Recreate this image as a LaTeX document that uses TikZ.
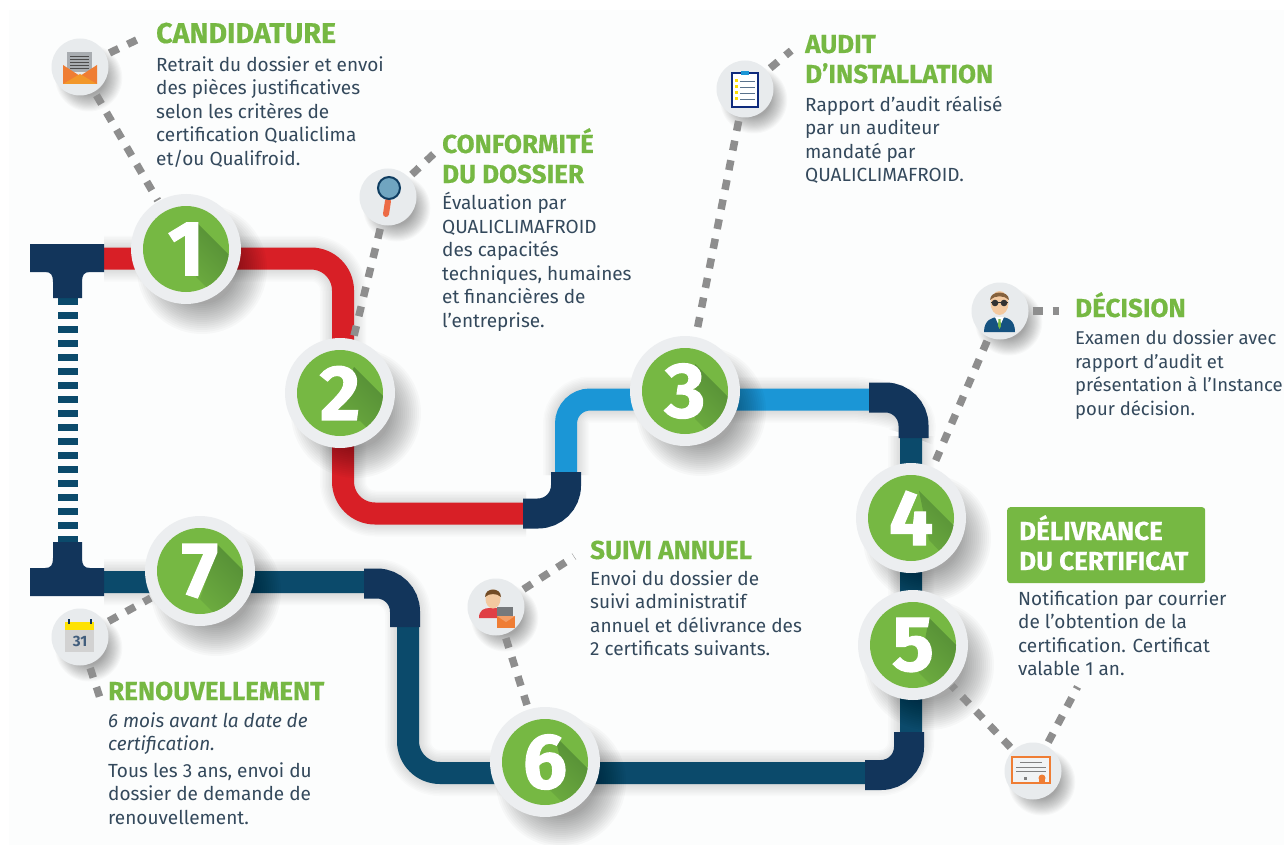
\documentclass[tikz,border=0pt]{standalone}
\usepackage{fontspec}
\setmainfont{Fira Sans}
\newfontfamily\digitfont[FakeBold=1.5]{Fira Sans}
\newfontfamily\titlefont[FakeBold=0.4]{Fira Sans}
\definecolor{bgc}{HTML}{FCFDFD}
\definecolor{navy}{HTML}{12355B}
\definecolor{teal}{HTML}{0B4A6B}
\definecolor{pred}{HTML}{D81F26}
\definecolor{pblue}{HTML}{1B96D6}
\definecolor{gr}{HTML}{76B843}
\definecolor{grd}{HTML}{4E8533}
\definecolor{ring}{HTML}{ECEEF0}
\definecolor{iconbg}{HTML}{E8EBED}
\definecolor{dashc}{HTML}{8E8E8E}
\definecolor{txt}{HTML}{34495C}
\definecolor{org}{HTML}{EF7D34}
\definecolor{skin}{HTML}{F3C9A0}
\definecolor{paper}{HTML}{A9ADB1}
\tikzset{
 x=1pt,y=-1pt,
 badge/.style={circle,fill=ring,minimum size=110pt,inner sep=0pt},
 greendisc/.style={circle,fill=gr,minimum size=86pt,inner sep=0pt},
 digit/.style={inner sep=0pt,text=white,font=\fontsize{78}{78}\digitfont\bfseries},
 icondisc/.style={circle,fill=iconbg,minimum size=57pt,inner sep=0pt},
 dots/.style={draw=dashc,line width=7.5pt,dash pattern=on 10pt off 10pt,shorten <=4pt,shorten >=1pt},
 title/.style={anchor=base west,inner sep=0pt,text=gr,font=\fontsize{26}{30}\titlefont\bfseries,align=left},
 whitetitle/.style={title,text=white},
 bigtitle/.style={title,font=\fontsize{28.6}{30}\titlefont\bfseries},
 body/.style={anchor=north west,inner sep=0pt,text=txt,align=left,font=\fontsize{19}{23.5}\selectfont,execute at begin node=\rule{0pt}{15.5pt}},
 pipe/.style={line width=22pt,rounded corners=32pt,line cap=butt},
 elbow/.style={draw=navy,line width=30pt,rounded corners=28pt,line cap=butt},
}
\newcommand{\softshadow}[4]{% x y r spread
 \foreach \k in {0,...,15}
  \fill[black,opacity=.022] ({#1+#4*.8},{#2+#4*1.0}) circle ({#3+#4*.5-\k*#4/10});
}
\newcommand{\pipeshadow}[2]{%
 \foreach \k in {0,...,10}
  \draw[black,opacity=.016,line width={46pt-\k*3pt},rounded corners=#2,line cap=butt,shift={(7pt,-14pt)}] #1;
}
\newcommand{\mybadge}[5]{% name x y digit shadowpolygon
 \node[badge] (n#1) at (#2,#3) {};
 \node[greendisc] (g#1) at (#2,#3) {};
 \begin{scope}
  \clip (#2,#3) circle (43);
  \begin{scope}[shift={(#2pt,-#3pt)}]
   \shade[left color=grd,right color=gr,shading angle=-45] #5 -- cycle;
  \end{scope}
 \end{scope}
 \node[digit] (d#1) at (#2,#3) {#4};
}
\begin{document}
\begin{tikzpicture}
\useasboundingbox (0,0) rectangle (1284,845);
\fill[white] (0,0) rectangle (1284,845);
\fill[bgc] (9,10) rectangle (1284,845);

% named way-points
\coordinate (teeA) at (68,298);
\coordinate (teeB) at (68,542);
\coordinate (rs) at (104,258.5);
\coordinate (rc1) at (343,258.5);
\coordinate (rc2) at (343,513.5);
\coordinate (re) at (526,513.5);
\coordinate (bs) at (566,475);
\coordinate (bc1) at (566,399.5);
\coordinate (be) at (872,399.5);
\coordinate (ts) at (104,582);
\coordinate (tc1) at (408,582);
\coordinate (tc2) at (408,773);
\coordinate (tc3) at (911,773);
\coordinate (te) at (911,436);

% pipe shadows
\pipeshadow{(rs) -- (rc1) -- (rc2) -- (re)}{32pt}
\pipeshadow{(bs) -- (bc1) -- (be) -- (913,399.5) -- (te)}{24pt}
\pipeshadow{(ts) -- (tc1) -- (tc2) -- (tc3) -- (te)}{32pt}

% pipes
\draw[pipe,draw=pred] (rs) -- (rc1) -- (rc2) -- (re);
\draw[pipe,draw=pblue,rounded corners=24pt] (bs) -- (bc1) -- (be);
\draw[pipe,draw=teal] (ts) -- (tc1) -- (tc2) -- (tc3) -- (te);
\draw[teal,line width=20pt,dash pattern=on 7pt off 7pt] (teeA) -- (teeB);

% elbows
\coordinate (ea1) at (523,513.5); \coordinate (ea2) at (566,513.5); \coordinate (ea3) at (566,472);
\draw[elbow] (ea1) -- (ea2) -- (ea3);
\coordinate (eb1) at (869,397.5); \coordinate (eb2) at (913.5,397.5); \coordinate (eb3) at (913.5,438);
\draw[elbow] (eb1) -- (eb2) -- (eb3);
\coordinate (ec1) at (364,583.5); \coordinate (ec2) at (405,583.5); \coordinate (ec3) at (405,627);
\draw[elbow] (ec1) -- (ec2) -- (ec3);
\coordinate (ed1) at (865,775); \coordinate (ed2) at (909,775); \coordinate (ed3) at (909,732);
\draw[elbow] (ed1) -- (ed2) -- (ed3);

% tees
\fill[navy] (30,244) -- (104,244) -- (104,272) -- (90,272) .. controls (84,272) and (82,275) .. (82,282) -- (82,298) -- (53,298) -- (53,282) .. controls (53,275) and (51,272) .. (45,272) -- (30,272) -- cycle;
\fill[navy] (30,596) -- (104,596) -- (104,568) -- (90,568) .. controls (84,568) and (82,565) .. (82,558) -- (82,542) -- (53,542) -- (53,558) .. controls (53,565) and (51,568) .. (45,568) -- (30,568) -- cycle;

% shadows of discs
\softshadow{186}{249}{55}{20}
\softshadow{340}{393}{55}{20}
\softshadow{685}{391}{55}{20}
\softshadow{911}{518}{54}{20}
\softshadow{913}{645}{55}{20}
\softshadow{545}{762}{55}{20}
\softshadow{200}{571}{55}{20}
\softshadow{80}{67}{28}{11}
\softshadow{388}{197}{28}{11}
\softshadow{745}{89}{28}{11}
\softshadow{1000}{311}{28}{11}
\softshadow{1033}{771}{28}{11}
\softshadow{496}{607}{28}{11}
\softshadow{80}{637}{28}{11}

% icon discs
\node[icondisc] (i1) at (80,67) {};
\node[icondisc] (i2) at (388,197) {};
\node[icondisc] (i3) at (745,89) {};
\node[icondisc] (i4) at (1000,311) {};
\node[icondisc] (i5) at (1033,771) {};
\node[icondisc] (i6) at (496,607) {};
\node[icondisc] (i7) at (80,637) {};

% free ends of dotted lines
\coordinate (e1) at (145,36);
\coordinate (e2) at (441,147);
\coordinate (e3) at (792,50);
\coordinate (e4) at (1060,311);
\coordinate (e5) at (1078,686);
\coordinate (e6) at (575,556);
\coordinate (e7) at (100,698);

% badges
\mybadge{1}{186}{249}{1}{(10,-27) -- (80,43) -- (80,98) -- (10,28)}
\mybadge{2}{340}{393}{2}{(14,-26) -- (84,44) -- (90,98) -- (20,28) -- (-10,28)}
\mybadge{3}{685}{391}{3}{(10,-27) -- (80,43) -- (80,98) -- (10,28)}
\mybadge{4}{911}{518}{4}{(8,-27) -- (78,43) -- (90,98) -- (18,22)}
\mybadge{5}{913}{645}{5}{(16,-27) -- (86,43) -- (76,98) -- (6,28)}
\mybadge{6}{545}{762}{6}{(10,-26) -- (80,44) -- (75,98) -- (5,28) -- (17,5)}
\mybadge{7}{200}{571}{7}{(18,-26) -- (88,44) -- (70,98) -- (0,28)}

% dotted connectors
\draw[dots] (i1) -- (n1);
\draw[dots] (i1) -- (e1);
\draw[dots] (i2) -- (n2);
\draw[dots] (i2) -- (e2);
\draw[dots] (i3) -- (n3);
\draw[dots] (i3) -- (e3);
\draw[dots] (i4) -- (n4);
\draw[dots] (i4) -- (e4);
\draw[dots] (i5) -- (n5);
\draw[dots] (i5) -- (e5);
\draw[dots] (i6) -- (n6);
\draw[dots] (i6) -- (e6);
\draw[dots] (i7) -- (n7);
\draw[dots] (i7) -- (e7);

% icon 1: envelope
\fill[paper] (67,52) rectangle (92,72);
\foreach \yy in {56,59,62,65,68} \draw[gray!60!black,line width=.8pt] (70,\yy) -- (89,\yy);
\fill[org] (63,65) -- (80,76) -- (97,65) -- (97,84) -- (63,84) -- cycle;
\fill[org!80!yellow] (63,84) -- (80,74) -- (97,84) -- cycle;
% icon 2: magnifier
\draw[line width=6pt,draw=pred!60!orange!80!white,line cap=round] (388,201) -- (386,214);
\draw[draw=navy!60!teal,line width=2pt,fill=pblue!40!teal!60!white] (389,188) circle (11);
% icon 3: clipboard
\draw[draw=navy!80!blue,line width=1.6pt,fill=white] (732,73) rectangle (758,107);
\fill[pblue] (741,71) rectangle (749,75);
\foreach \yy in {81,87,93,99} {\fill[yellow!80!orange] (735,\yy-1.5) rectangle (738,\yy+1.5); \draw[navy!70,line width=.9pt] (740,\yy) -- (755,\yy);}
% icon 4: man
\fill[navy!70!pblue] (984,332) .. controls (984,320) and (992,317) .. (999,317) .. controls (1008,317) and (1015,320) .. (1015,332) -- cycle;
\fill[white] (995,317) -- (1004,317) -- (999.5,327) -- cycle;
\fill[gr] (998.5,319) -- (1000.5,319) -- (1001,326) -- (999.5,329) -- (998,326) -- cycle;
\fill[skin] (999.5,303) ellipse (9 and 12);
\fill[brown!70!black!80!gray] (990,300) .. controls (990,290) and (1009,290) .. (1009,300) .. controls (1004,295) and (995,295) .. (990,300) -- cycle;
\fill[black!80] (995,303) circle (3.3) (1004,303) circle (3.3);
\draw[black!80,line width=1pt] (991,302) -- (1008,302);
% icon 5: certificate
\draw[draw=org,line width=1.4pt,fill=iconbg!60!white] (1012,757) rectangle (1050,783);
\draw[gray,line width=.6pt] (1020,762) -- (1042,762) (1016,767) -- (1046,767) (1016,771) -- (1046,771);
\fill[org] (1042,778) circle (3.5); \fill[org] (1039,778) rectangle (1045,783);
\fill[gray] (1024,777) rectangle (1027,780);
% icon 6: person and laptop
\fill[pred!80!pink] (479,618) .. controls (479,610) and (484,608) .. (490,608) -- (497,608) -- (497,618) -- cycle;
\fill[skin] (493,599) ellipse (7.5 and 9.5);
\fill[brown!60!black] (485,597) .. controls (485,587) and (501,587) .. (501,597) .. controls (497,593) and (489,593) .. (485,597) -- cycle;
\fill[paper!70!black] (497,607) rectangle (513,617);
\fill[org] (497,616) rectangle (515,628);
\fill[org!75!white] (497,616) -- (506,622) -- (515,616) -- cycle;
% icon 7: calendar
\fill[gray!35] (65,630) rectangle (94,652);
\fill[yellow!85!orange] (65,622) rectangle (94,630);
\draw[navy,line width=1.6pt] (69,619) -- (69,624) (91,619) -- (91,624);
\node[inner sep=0pt,text=navy!80,font=\fontsize{15}{15}\selectfont\bfseries] (cal) at (80,641) {31};

% texts
\node[bigtitle] (t1) at (156,43) {CANDIDATURE};
\node[body] (b1) at (156,56) {Retrait du dossier et envoi\\des pièces justificatives\\selon les critères de\\certification Qualiclima\\et/ou Qualifroid.};
\node[title] (t2a) at (442,153) {CONFORMITÉ};
\node[title] (t2b) at (442,183) {DU DOSSIER};
\node[body] (b2) at (442,192) {Évaluation par\\QUALICLIMAFROID\\des capacités\\techniques, humaines\\et financières de\\l'entreprise.};
\node[title] (t3a) at (805,53) {AUDIT};
\node[title] (t3b) at (805,83) {D’INSTALLATION};
\node[body] (b3) at (805,96) {Rapport d'audit réalisé\\par un auditeur\\mandaté par\\QUALICLIMAFROID.};
\node[title] (t4) at (1075,317) {DÉCISION};
\node[body,font=\fontsize{18.5}{23.5}\selectfont] (b4) at (1075,330) {Examen du dossier avec\\rapport d'audit et\\présentation à l'Instance\\pour décision.};
\node[fill=gr,rounded corners=3pt,minimum width=198pt,minimum height=76pt,inner sep=0pt,anchor=north west] (box) at (1007,507) {};
\node[whitetitle] (t5a) at (1019,540) {DÉLIVRANCE};
\node[whitetitle] (t5b) at (1019,570) {DU CERTIFICAT};
\node[body] (b5) at (1018,590) {Notification par courrier\\de l'obtention de la\\certification. Certificat\\valable 1 an.};
\node[title] (t6) at (590,559) {SUIVI ANNUEL};
\node[body] (b6) at (590,570) {Envoi du dossier de\\suivi administratif\\annuel et délivrance des\\2 certificats suivants.};
\node[title] (t7) at (108,700) {RENOUVELLEMENT};
\node[body] (b7i) at (108,712) {\itshape 6 mois avant la date de\\\itshape certification.};
\node[body] (b7) at (108,762) {Tous les 3 ans, envoi du\\dossier de demande de\\renouvellement.};
\end{tikzpicture}
\end{document}
